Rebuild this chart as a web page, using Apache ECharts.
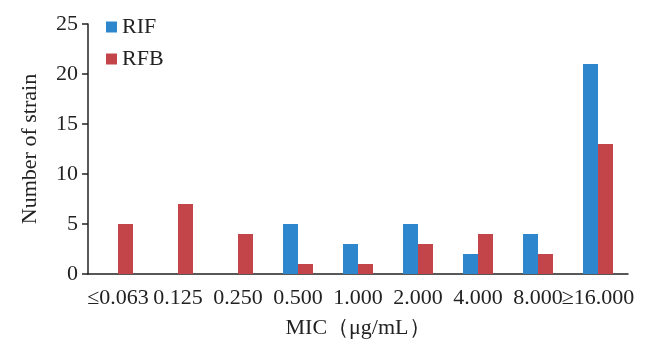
<!DOCTYPE html>
<html><head><meta charset="utf-8">
<script src="https://cdn.jsdelivr.net/npm/echarts@6/dist/echarts.min.js"></script>
<style>html,body{margin:0;padding:0;background:#fff}#c{width:666px;height:347px}</style>
</head><body><div id="c"></div>
<script>
const categories = ['≤0.063','0.125','0.250','0.500','1.000','2.000','4.000','8.000','≥16.000'];
const rif = [0,0,0,5,3,5,2,4,21];
const rfb = [5,7,4,1,1,3,4,2,13];
const seriesNames = ['RIF','RFB'];
const font = 'Liberation Serif, Times New Roman, serif';
const chart = echarts.init(document.getElementById('c'));
chart.setOption({
  animation:false,
  textStyle:{fontFamily:font},
  legend:{orient:'vertical',left:101,top:11,itemWidth:11,itemHeight:11,itemGap:10,icon:'rect',
    textStyle:{fontFamily:font,fontSize:22,color:'#222'},data:seriesNames},
  grid:{left:88,right:38,top:24,bottom:73},
  xAxis:{type:'category',data:categories,boundaryGap:true,
    name:'MIC（μg/mL）',nameLocation:'middle',nameGap:43,
    nameTextStyle:{fontFamily:font,fontSize:22,color:'#222'},
    axisLine:{lineStyle:{color:'#222',width:1.5}},
    axisTick:{alignWithLabel:true,length:5,lineStyle:{color:'#222',width:1.5}},
    axisLabel:{fontFamily:font,fontSize:22,color:'#222',margin:13,interval:0}},
  yAxis:{type:'value',min:0,max:25,interval:5,
    name:'Number of strain',nameLocation:'middle',nameGap:47,nameRotate:90,
    nameTextStyle:{fontFamily:font,fontSize:22,color:'#222'},
    axisLine:{show:true,lineStyle:{color:'#222',width:1.5}},
    axisTick:{show:true,length:6,lineStyle:{color:'#222',width:1.5}},
    splitLine:{show:false},
    axisLabel:{fontFamily:font,fontSize:22,color:'#222',margin:10}},
  series:[
    {name:seriesNames[0],type:'bar',data:rif,barWidth:15,barGap:'0%',itemStyle:{color:'#2e87cd'}},
    {name:seriesNames[1],type:'bar',data:rfb,barWidth:15,barGap:'0%',itemStyle:{color:'#c3454a'}}
  ]
});
</script></body></html>
